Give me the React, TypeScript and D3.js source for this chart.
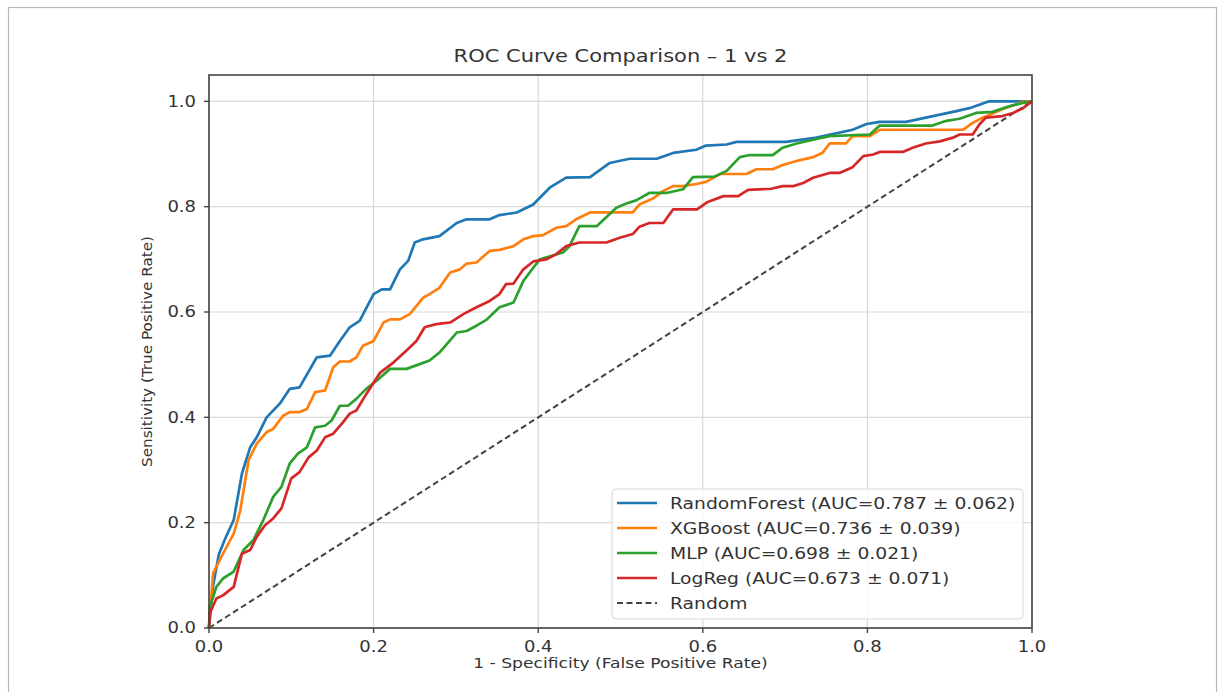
import React from "react";
import * as d3 from "d3";

const W = 1218;
const H = 692;

const xTicks = [0, 0.2, 0.4, 0.6, 0.8, 1.0];
const yTicks = [0, 0.2, 0.4, 0.6, 0.8, 1.0];

const modelNames = ["RandomForest", "XGBoost", "MLP", "LogReg"];
const modelAUC = ["0.787", "0.736", "0.698", "0.673"];
const modelStd = ["0.062", "0.039", "0.021", "0.071"];
const modelColors = ["#1f77b4", "#ff7f0e", "#2ca02c", "#d62728"];

const rfFpr = [0, 0.005, 0.012, 0.019, 0.03, 0.04, 0.05, 0.058, 0.07, 0.086, 0.098, 0.11, 0.131, 0.147, 0.159, 0.171, 0.183, 0.2, 0.21, 0.22, 0.232, 0.242, 0.25, 0.26, 0.28, 0.301, 0.313, 0.341, 0.353, 0.374, 0.394, 0.414, 0.434, 0.463, 0.487, 0.511, 0.544, 0.564, 0.592, 0.604, 0.629, 0.641, 0.701, 0.738, 0.782, 0.799, 0.815, 0.847, 0.871, 0.904, 0.924, 0.948, 1.0];
const rfTpr = [0, 0.08, 0.14, 0.167, 0.205, 0.293, 0.343, 0.362, 0.4, 0.426, 0.454, 0.457, 0.514, 0.517, 0.545, 0.571, 0.583, 0.634, 0.643, 0.643, 0.681, 0.697, 0.732, 0.738, 0.744, 0.769, 0.776, 0.776, 0.784, 0.789, 0.804, 0.836, 0.855, 0.856, 0.883, 0.891, 0.891, 0.902, 0.908, 0.916, 0.918, 0.923, 0.923, 0.931, 0.946, 0.957, 0.961, 0.961, 0.969, 0.98, 0.987, 1.0, 1.0];

const xgbFpr = [0, 0.005, 0.017, 0.03, 0.038, 0.048, 0.058, 0.07, 0.078, 0.09, 0.098, 0.11, 0.119, 0.129, 0.141, 0.151, 0.159, 0.171, 0.179, 0.187, 0.2, 0.212, 0.22, 0.232, 0.244, 0.26, 0.268, 0.28, 0.293, 0.305, 0.313, 0.325, 0.341, 0.353, 0.37, 0.382, 0.394, 0.406, 0.422, 0.434, 0.446, 0.463, 0.515, 0.523, 0.54, 0.552, 0.564, 0.576, 0.592, 0.604, 0.621, 0.653, 0.665, 0.685, 0.697, 0.717, 0.734, 0.746, 0.754, 0.774, 0.782, 0.803, 0.815, 0.916, 0.928, 0.94, 0.964, 0.989, 1.0];
const xgbTpr = [0, 0.104, 0.141, 0.179, 0.223, 0.318, 0.35, 0.372, 0.378, 0.403, 0.41, 0.41, 0.416, 0.448, 0.451, 0.495, 0.506, 0.506, 0.514, 0.536, 0.545, 0.58, 0.586, 0.586, 0.596, 0.627, 0.634, 0.646, 0.675, 0.681, 0.692, 0.694, 0.716, 0.718, 0.725, 0.738, 0.744, 0.746, 0.76, 0.763, 0.776, 0.789, 0.789, 0.804, 0.816, 0.83, 0.839, 0.839, 0.843, 0.847, 0.862, 0.862, 0.871, 0.871, 0.879, 0.888, 0.894, 0.903, 0.92, 0.92, 0.934, 0.934, 0.946, 0.946, 0.959, 0.969, 0.985, 0.999, 1.0];

const mlpFpr = [0, 0.001, 0.009, 0.017, 0.03, 0.042, 0.054, 0.066, 0.078, 0.088, 0.098, 0.108, 0.119, 0.129, 0.141, 0.149, 0.159, 0.169, 0.179, 0.191, 0.204, 0.22, 0.24, 0.256, 0.268, 0.28, 0.301, 0.313, 0.325, 0.337, 0.353, 0.37, 0.382, 0.394, 0.402, 0.43, 0.438, 0.45, 0.471, 0.495, 0.507, 0.519, 0.535, 0.556, 0.576, 0.588, 0.614, 0.629, 0.645, 0.657, 0.685, 0.697, 0.714, 0.734, 0.754, 0.803, 0.815, 0.879, 0.896, 0.912, 0.932, 0.952, 0.973, 0.989, 1.0];
const mlpTpr = [0, 0.04, 0.078, 0.094, 0.107, 0.148, 0.167, 0.205, 0.249, 0.268, 0.312, 0.331, 0.343, 0.381, 0.384, 0.394, 0.422, 0.422, 0.435, 0.454, 0.47, 0.492, 0.492, 0.501, 0.508, 0.523, 0.561, 0.564, 0.574, 0.585, 0.609, 0.618, 0.659, 0.684, 0.7, 0.713, 0.725, 0.763, 0.763, 0.798, 0.806, 0.812, 0.826, 0.826, 0.833, 0.856, 0.857, 0.868, 0.894, 0.898, 0.898, 0.912, 0.92, 0.927, 0.934, 0.937, 0.954, 0.954, 0.963, 0.967, 0.978, 0.98, 0.991, 0.997, 1.0];

const lrFpr = [0, 0.001, 0.009, 0.017, 0.03, 0.04, 0.05, 0.058, 0.068, 0.078, 0.088, 0.1, 0.11, 0.121, 0.131, 0.141, 0.151, 0.163, 0.171, 0.179, 0.191, 0.208, 0.224, 0.24, 0.252, 0.262, 0.276, 0.293, 0.309, 0.325, 0.341, 0.353, 0.361, 0.37, 0.382, 0.394, 0.41, 0.422, 0.434, 0.45, 0.483, 0.499, 0.515, 0.523, 0.535, 0.552, 0.564, 0.593, 0.606, 0.625, 0.643, 0.655, 0.683, 0.697, 0.71, 0.722, 0.734, 0.754, 0.766, 0.782, 0.795, 0.807, 0.815, 0.843, 0.855, 0.871, 0.888, 0.904, 0.912, 0.928, 0.936, 0.944, 0.964, 0.977, 0.989, 1.0];
const lrTpr = [0, 0.028, 0.056, 0.062, 0.078, 0.141, 0.148, 0.173, 0.195, 0.208, 0.227, 0.284, 0.296, 0.324, 0.337, 0.362, 0.369, 0.391, 0.407, 0.413, 0.444, 0.485, 0.504, 0.527, 0.545, 0.571, 0.577, 0.58, 0.596, 0.609, 0.621, 0.634, 0.653, 0.654, 0.681, 0.696, 0.7, 0.71, 0.725, 0.732, 0.732, 0.741, 0.748, 0.762, 0.769, 0.769, 0.795, 0.795, 0.809, 0.82, 0.82, 0.832, 0.834, 0.839, 0.839, 0.845, 0.855, 0.864, 0.864, 0.875, 0.896, 0.899, 0.904, 0.904, 0.912, 0.92, 0.924, 0.931, 0.937, 0.937, 0.956, 0.969, 0.972, 0.978, 0.987, 1.0];

const randomFpr = [0, 1];
const randomTpr = [0, 1];

const titleText = "ROC Curve Comparison \u2013 1 vs 2";
const xLabelText = "1 - Specificity (False Positive Rate)";
const yLabelText = "Sensitivity (True Positive Rate)";

const FONT = "'DejaVu Sans', Verdana, sans-serif";
const SX = 1.2;
const TXT = "#333";

const M = { left: 209, right: 1032, top: 75, bottom: 628 };

function T(props: { x: number; y: number; anchor?: string; size: number; children: any; rotate?: boolean; sy?: number }) {
  const { x, y, anchor = "start", size, children, rotate, sy = 1 } = props;
  const tr = rotate
    ? `translate(${x},${y}) rotate(-90) scale(1,${sy})`
    : `translate(${x},${y}) scale(${SX},1)`;
  return (
    <text transform={tr} textAnchor={anchor} fontFamily={FONT} fontSize={size} fill={TXT}>
      {children}
    </text>
  );
}

export default function App() {
  const x = d3.scaleLinear().domain([0, 1]).range([M.left, M.right]);
  const y = d3.scaleLinear().domain([0, 1.05]).range([M.bottom, M.top]);

  const series = [
    { fpr: rfFpr, tpr: rfTpr },
    { fpr: xgbFpr, tpr: xgbTpr },
    { fpr: mlpFpr, tpr: mlpTpr },
    { fpr: lrFpr, tpr: lrTpr },
  ];

  const line = d3
    .line<[number, number]>()
    .x((d) => x(d[0]))
    .y((d) => y(d[1]));

  const toPts = (a: number[], b: number[]) => a.map((v, i) => [v, b[i]] as [number, number]);

  const legX = 612;
  const legY = 489;
  const legW = 411;
  const legH = 130;
  const rowY = (i: number) => 503 + i * 25;

  return (
    <svg width={W} height={H} style={{ position: "absolute", left: 0, top: 0, background: "#fff" }}>
      <rect x={0} y={0} width={W} height={H} fill="#fff" />
      <rect x={8.5} y={7.5} width={1208} height={H + 10} fill="none" stroke="#b8b8b8" strokeWidth={1.2} />

      <g stroke="#d9d9d9" strokeWidth={1.2}>
        {xTicks.map((t) => (
          <line key={"gx" + t} x1={x(t)} x2={x(t)} y1={M.top} y2={M.bottom} />
        ))}
        {yTicks.map((t) => (
          <line key={"gy" + t} x1={M.left} x2={M.right} y1={y(t)} y2={y(t)} />
        ))}
      </g>

      <path
        d={line(toPts(randomFpr, randomTpr)) || ""}
        fill="none"
        stroke="#444"
        strokeWidth={2}
        strokeDasharray="6,3.5"
      />

      {series.map((s, i) => (
        <path
          key={"s" + i}
          d={line(toPts(s.fpr, s.tpr)) || ""}
          fill="none"
          stroke={modelColors[i]}
          strokeWidth={2.7}
          strokeLinejoin="round"
        />
      ))}

      <rect
        x={M.left}
        y={M.top}
        width={M.right - M.left}
        height={M.bottom - M.top}
        fill="none"
        stroke="#444"
        strokeWidth={1.6}
      />

      <g stroke="#444" strokeWidth={1.4}>
        {xTicks.map((t) => (
          <line key={"tx" + t} x1={x(t)} x2={x(t)} y1={M.bottom} y2={M.bottom + 5} />
        ))}
        {yTicks.map((t) => (
          <line key={"ty" + t} x1={M.left - 5} x2={M.left} y1={y(t)} y2={y(t)} />
        ))}
      </g>

      {xTicks.map((t) => (
        <T key={"lx" + t} x={x(t)} y={652} anchor="middle" size={15}>
          {t.toFixed(1)}
        </T>
      ))}
      {yTicks.map((t) => (
        <T key={"ly" + t} x={196} y={y(t) + 5.4} anchor="end" size={15}>
          {t.toFixed(1)}
        </T>
      ))}

      <T x={(M.left + M.right) / 2} y={62} anchor="middle" size={17.5}>
        {titleText}
      </T>
      <T x={(M.left + M.right) / 2} y={668} anchor="middle" size={14.3}>
        {xLabelText}
      </T>
      <T x={152} y={(M.top + M.bottom) / 2} anchor="middle" size={15.2} rotate sy={0.88}>
        {yLabelText}
      </T>

      <rect
        x={legX}
        y={legY}
        width={legW}
        height={legH}
        rx={4}
        fill="#fff"
        fillOpacity={0.8}
        stroke="#d8d8d8"
        strokeWidth={1}
      />
      {modelNames.map((n, i) => (
        <g key={"lg" + i}>
          <line x1={617} x2={657} y1={rowY(i)} y2={rowY(i)} stroke={modelColors[i]} strokeWidth={2.7} />
          <T x={670} y={rowY(i) + 5.5} size={15.6}>
            {`${n} (AUC=${modelAUC[i]} \u00b1 ${modelStd[i]})`}
          </T>
        </g>
      ))}
      <line x1={617} x2={657} y1={rowY(4)} y2={rowY(4)} stroke="#444" strokeWidth={2} strokeDasharray="6,3.5" />
      <T x={670} y={rowY(4) + 5.5} size={15.6}>
        Random
      </T>
    </svg>
  );
}
